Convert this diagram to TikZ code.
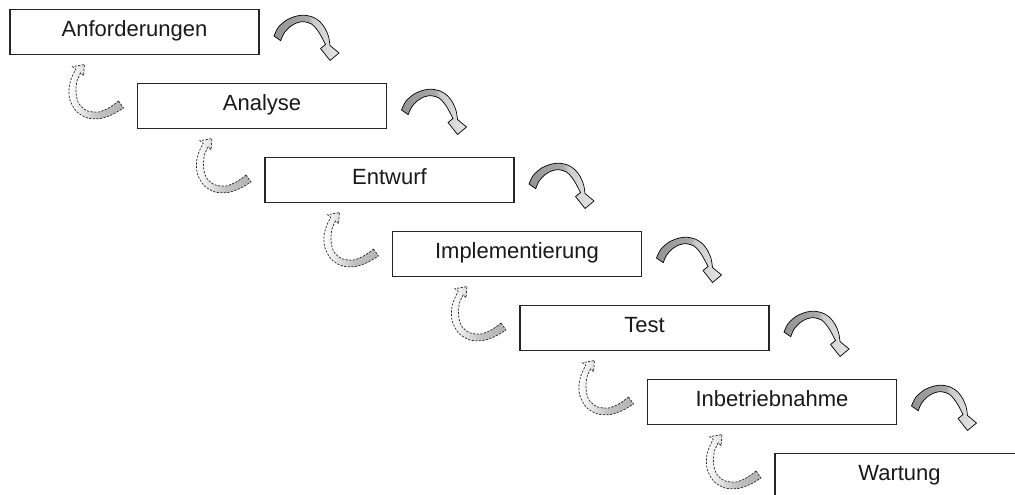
\documentclass[tikz,border=0pt]{standalone}
\usepackage{fontspec}
\setmainfont{Liberation Sans}

% ribbon look of the forward arrows: dark outer face, twist, light inner face
\pgfdeclarehorizontalshading{ribbonfwd}{100bp}{color(0bp)=(black!44); color(25bp)=(black!42); color(51bp)=(black!34); color(55bp)=(black!20); color(75bp)=(black!10); color(100bp)=(black!10)}
% pale fill of the dashed return arrows
\pgfdeclarehorizontalshading{ribbonback}{100bp}{color(0bp)=(white); color(25bp)=(white); color(36bp)=(black!10); color(52bp)=(black!24); color(75bp)=(black!30); color(100bp)=(black!30)}

\begin{document}
\begin{tikzpicture}[x=1pt,y=-1pt,
  phase/.style={draw=black!85, line width=1.1pt, fill=white,
    minimum width=249pt, minimum height=45pt, inner sep=0pt, outer sep=0pt,
    anchor=north west, font=\fontsize{22}{26}\selectfont, text=black!90,
    text height=12pt, text depth=3pt},
  fwdline/.style={draw=black, line width=0.7pt, shading=ribbonfwd},
  backline/.style={draw=black!85, line width=0.7pt, dash pattern=on 2.2pt off 1.4pt, shading=ribbonback},
  % curved arrow to the next phase, origin at the north east corner of a phase box
  fwd/.pic={
    \path[fwdline] (21.7,31.2) -- (15,26.5)
      -- plot[smooth] coordinates {(15,26.5) (19.3,17.8) (27.7,10.5) (37.7,6.5) (46,5.8) (54.3,7.8) (61,12.2) (66,18.8) (69.6,27.2) (71,36)}
      -- (80,43.5) -- (71,51) -- (61.5,39) -- (66.5,35)
      -- plot[smooth] coordinates {(66.5,35) (61.5,25.5) (57.5,19.5) (52.5,14.5) (45,12.2) (38.3,13.2) (31,17.2) (25,23.8) (21.7,31.2)}
      -- cycle;
  },
  % dashed return arrow, origin at the north west corner of the next phase box
  back/.pic={
    \path[backline] (-19,17.5) -- (-14,24.5)
      -- plot[smooth] coordinates {(-14,24.5) (-25,31) (-37,35) (-50,34.5) (-61,28) (-67.5,16.5) (-68.5,4.5) (-66,-5.5) (-61.8,-14.2)}
      -- (-65,-16.8) -- (-53,-19) -- (-54,-7.8) -- (-56.8,-10.6)
      -- plot[smooth] coordinates {(-56.8,-10.6) (-60.5,-2.5) (-61.5,8.5) (-59,19.5) (-51,27) (-39,28.5) (-28,24) (-19,17.5)}
      -- cycle;
  }]
\useasboundingbox (0,0) rectangle (1015,495);
\fill[white] (0,0) rectangle (1015,495);
\clip (0,0) rectangle (1015,495);

% phases of the waterfall
\node[phase] (p0) at (10,9.5)      {Anforderungen};
\node[phase] (p1) at (137.5,83.5)  {Analyse};
\node[phase] (p2) at (265,157.5)   {Entwurf};
\node[phase] (p3) at (392.5,231.5) {Implementierung};
\node[phase] (p4) at (520,305.5)   {Test};
\node[phase] (p5) at (647.5,379.5) {Inbetriebnahme};
\node[phase] (p6) at (775,453.5)   {Wartung};

% forward arrows
\foreach \i in {0,...,5} {
  \pic at (p\i.north east) {fwd};
}
% return arrows
\foreach \i in {1,...,6} {
  \pic at (p\i.north west) {back};
}
\end{tikzpicture}
\end{document}
